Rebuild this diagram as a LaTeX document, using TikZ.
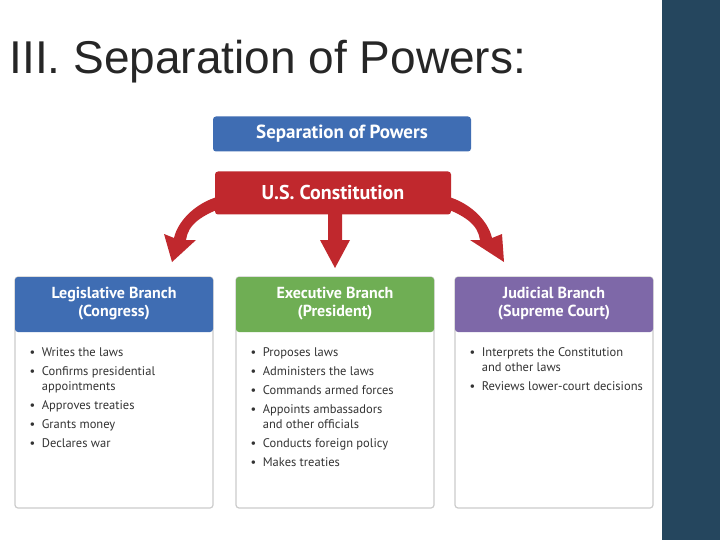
\documentclass[tikz,border=0pt]{standalone}
\usepackage{fontspec}
\setmainfont{Liberation Sans}
\newfontfamily\nar{PT Sans}
\definecolor{cL}{RGB}{63,109,179}
\definecolor{cE}{RGB}{111,174,84}
\definecolor{cJ}{RGB}{126,104,168}
\definecolor{cR}{RGB}{192,40,45}
\definecolor{cBar}{RGB}{37,70,94}
\begin{document}
\begin{tikzpicture}[x=1pt,y=-1pt,
  hdr/.style={draw=none,text=white,font=\nar\bfseries\fontsize{16}{18}\selectfont,align=center},
  col/.style={fill=white,draw=gray!40,line width=1.2pt,rounded corners=3pt},
  itm/.style={anchor=north west,font=\nar\fontsize{12.5}{15}\selectfont,align=left,text=black!80},
  rarr/.style={fill=cR,draw=none}]
\useasboundingbox (0,0) rectangle (720,540);
\fill[white] (0,0) rectangle (720,540);
\fill[cBar] (662,0) rectangle (720,540);
\node[anchor=west,font=\fontsize{46}{50}\selectfont,text=black!85] (title) at (6,62) {III. Separation of Powers:};
\node[fill=cL,rounded corners=3pt,minimum width=258pt,minimum height=35pt,hdr,font=\nar\bfseries\fontsize{19}{20}\selectfont] (sop) at (342,134) {Separation of Powers};
\node[fill=cR,rounded corners=3pt,minimum width=236pt,minimum height=43pt,hdr,font=\nar\bfseries\fontsize{20}{22}\selectfont] (con) at (333,193) {U.S. Constitution};
\fill[rarr] (230,205) .. controls (200,215) and (188,225) .. (186,240) -- (196,240) -- (172,262) -- (164,234) -- (174,238) .. controls (178,220) and (198,200) .. (225,195) -- cycle;
\fill[rarr] (328,214) -- (328,240) -- (320,240) -- (335,268) -- (350,240) -- (342,240) -- (342,214) -- cycle;
\fill[rarr] (436,205) .. controls (466,215) and (478,225) .. (480,240) -- (470,240) -- (504,262) -- (502,234) -- (492,238) .. controls (488,220) and (468,200) .. (441,195) -- cycle;
\foreach \x/\c in {15/cL,236/cE,455/cJ}{
  \draw[col] (\x,277) rectangle ++(198,231);
  \fill[\c,rounded corners=3pt] (\x,277) rectangle ++(198,55);
}
\node[hdr] (lh) at (114,304) {Legislative Branch\\(Congress)};
\node[hdr] (eh) at (335,304) {Executive Branch\\(President)};
\node[hdr] (jh) at (554,304) {Judicial Branch\\(Supreme Court)};
\node[itm] (li) at (26,344) {•\ \ Writes the laws\\[4pt]•\ \ Confirms presidential\\\phantom{•}\ \ appointments\\[4pt]•\ \ Approves treaties\\[4pt]•\ \ Grants money\\[4pt]•\ \ Declares war};
\node[itm] (ei) at (247,344) {•\ \ Proposes laws\\[4pt]•\ \ Administers the laws\\[4pt]•\ \ Commands armed forces\\[4pt]•\ \ Appoints ambassadors\\\phantom{•}\ \ and other officials\\[4pt]•\ \ Conducts foreign policy\\[4pt]•\ \ Makes treaties};
\node[itm] (ji) at (466,344) {•\ \ Interprets the Constitution\\\phantom{•}\ \ and other laws\\[4pt]•\ \ Reviews lower-court decisions};
\end{tikzpicture}
\end{document}
